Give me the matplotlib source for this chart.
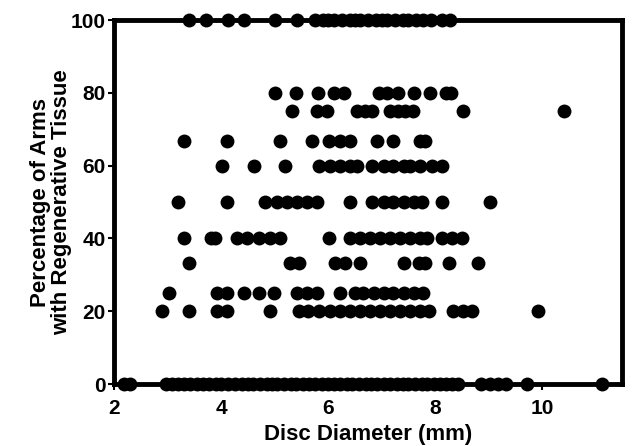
import matplotlib
matplotlib.use("Agg")
import matplotlib.pyplot as plt
import numpy as np

plt.rcParams['font.family'] = ['Liberation Sans', 'DejaVu Sans']
plt.rcParams['font.weight'] = 'bold'

# disc diameters (mm) for each percentage level
d100 = [3.40, 3.71, 4.12, 4.43, 5.01, 5.42, 5.76, 5.9, 6.0, 6.1, 6.25, 6.4, 6.5, 6.6,
        6.75, 6.9, 7.0, 7.1, 7.25, 7.4, 7.5, 7.65, 7.78, 7.93, 8.12, 8.27]
d80 = [5.0, 5.4, 5.8, 6.1, 6.3, 6.95, 7.1, 7.3, 7.6, 7.9, 8.2, 8.3]
d75 = [5.32, 5.79, 5.98, 6.53, 6.69, 6.81, 7.15, 7.31, 7.43, 7.59, 8.52, 10.41]
d67 = [3.30, 4.11, 5.10, 5.70, 6.01, 6.23, 6.41, 6.91, 7.22, 7.72, 7.81]
d60 = [4.01, 4.61, 5.20, 5.82, 6.04, 6.23, 6.41, 6.54, 6.82, 7.04, 7.22, 7.41, 7.53,
       7.72, 7.94, 8.12]
d50 = [3.20, 4.11, 4.82, 5.04, 5.23, 5.42, 5.60, 5.79, 6.41, 6.82, 7.04, 7.22, 7.41,
       7.60, 7.75, 8.12, 9.03]
d40 = [3.30, 3.80, 3.89, 4.29, 4.48, 4.70, 4.92, 5.10, 6.01, 6.41, 6.60, 6.79, 6.97,
       7.16, 7.35, 7.53, 7.72, 7.85, 8.12, 8.31, 8.50]
d33 = [3.39, 5.29, 5.45, 6.13, 6.32, 6.60, 7.41, 7.69, 7.81, 8.25, 8.81]
d25 = [3.02, 3.92, 4.11, 4.42, 4.70, 4.98, 5.42, 5.60, 5.79, 6.23, 6.51, 6.66, 6.85,
       7.04, 7.22, 7.41, 7.60, 7.78]
d20 = [2.89, 3.39, 3.92, 4.11, 4.92, 5.45, 5.63, 5.82, 6.04, 6.23, 6.41, 6.60, 6.79,
       6.97, 7.16, 7.35, 7.53, 7.72, 7.88, 8.34, 8.53, 8.69, 9.93]
d0 = [2.18, 2.30, 2.97, 3.08, 3.2, 3.3, 3.42, 3.55, 3.65, 3.78, 3.9, 4.0, 4.12, 4.25,
      4.38, 4.5, 4.6, 4.72, 4.85, 4.95, 5.05, 5.18, 5.3, 5.4, 5.52, 5.65, 5.75, 5.88,
      6.0, 6.1, 6.22, 6.35, 6.45, 6.58, 6.7, 6.8, 6.92, 7.05, 7.15, 7.28, 7.4, 7.5,
      7.62, 7.75, 7.85, 7.98, 8.1, 8.2, 8.32, 8.42, 8.86, 9.03, 9.18, 9.33, 9.71, 11.12]

rows = [(100, d100), (80, d80), (75, d75), (66.7, d67), (60, d60), (50, d50),
        (40, d40), (33.3, d33), (25, d25), (20, d20), (0, d0)]

diam = np.concatenate([np.array(d) for p, d in rows])
pct = np.concatenate([np.full(len(d), p) for p, d in rows])

fig = plt.figure(figsize=(6.35, 4.46), dpi=100)
ax = fig.add_axes([0.180, 0.139, 0.800, 0.816])

ax.scatter(diam, pct, s=100, color='black', zorder=5, clip_on=False, linewidths=0)

ax.set_xlim(2, 11.5)
ax.set_ylim(0, 100)
ax.set_xticks([2, 4, 6, 8, 10])
ax.set_yticks([0, 20, 40, 60, 80, 100])

for sp in ax.spines.values():
    sp.set_linewidth(3.5)
    sp.set_color('black')

ax.tick_params(direction='out', length=4, width=1.5, labelsize=15, pad=2)
ax.tick_params(axis='x', pad=7)
for lab in ax.get_xticklabels() + ax.get_yticklabels():
    lab.set_fontweight('bold')

ax.set_xlabel("Disc Diameter (mm)", fontsize=16, fontweight='bold', labelpad=4)
ax.set_ylabel("Percentage of Arms\nwith Regenerative Tissue", fontsize=16,
              fontweight='bold', labelpad=-1, linespacing=1.0)

fig.savefig("out.png", dpi=100)
